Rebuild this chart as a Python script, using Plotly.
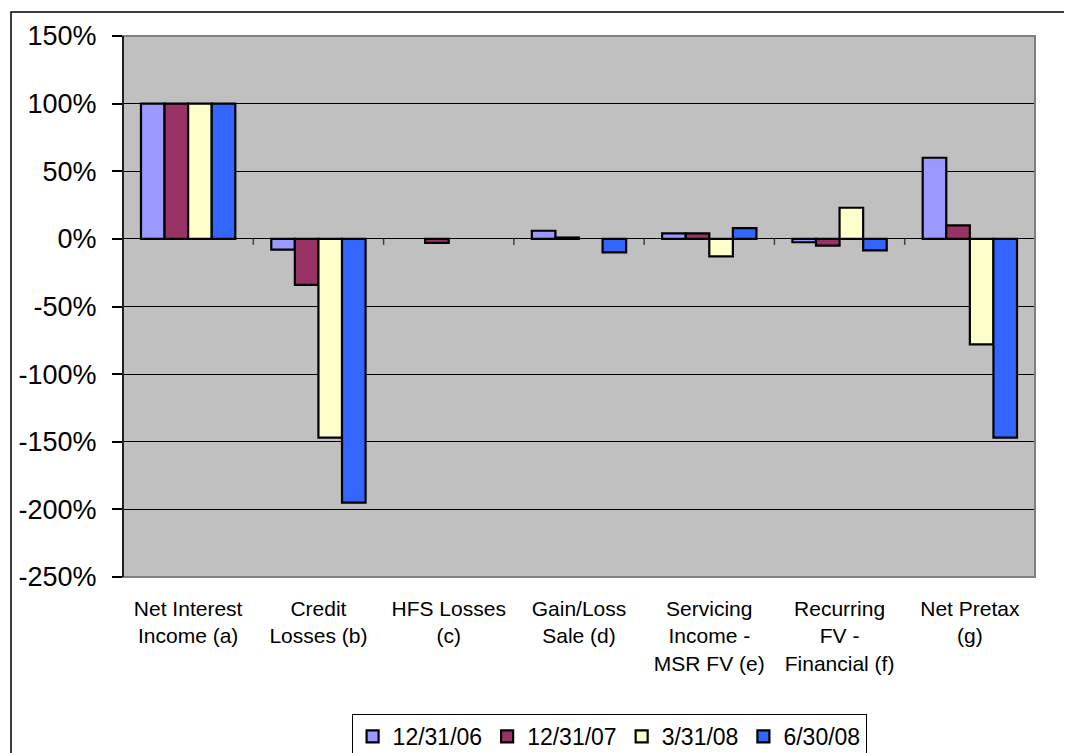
import plotly.graph_objects as go

categories = ["Net Interest<br>Income (a)", "Credit<br>Losses (b)", "HFS Losses<br>(c)",
              "Gain/Loss<br>Sale (d)", "Servicing<br>Income -<br>MSR FV (e)",
              "Recurring<br>FV -<br>Financial (f)", "Net Pretax<br>(g)"]
series_names = ["12/31/06", "12/31/07", "3/31/08", "6/30/08"]
# None = no bar drawn (blank / zero in the source)
s_123106 = [100, -8, None, 6, 4, -2.5, 60]
s_123107 = [100, -34, -3, 1, 4, -5, 10]
s_033108 = [100, -147, None, None, -13, 23, -78]
s_063008 = [100, -195, None, -10, 8, -8.5, -147]
series_values = [s_123106, s_123107, s_033108, s_063008]
colors = ["#9999FF", "#993366", "#FFFFCC", "#3366FF"]
y_ticks = [150, 100, 50, 0, -50, -100, -150, -200, -250]
y_tick_labels = ["150%", "100%", "50%", "0%", "-50%", "-100%", "-150%", "-200%", "-250%"]

FONT = "Liberation Sans, Arial, sans-serif"

fig = go.Figure()
for name, vals, c in zip(series_names, series_values, colors):
    fig.add_trace(go.Bar(x=categories, y=vals, name=name,
                         marker=dict(color=c, line=dict(color="black", width=2.2))))

shapes = []
# outer chart frame
shapes.append(dict(type="rect", xref="paper", yref="paper", x0=-0.1228, x1=1.2,
                   y0=1.0444, y1=-0.5, line=dict(color="black", width=1.5),
                   fillcolor="rgba(0,0,0,0)", layer="below"))
# plot area border (gray)
shapes.append(dict(type="rect", xref="paper", yref="paper", x0=0, x1=1, y0=0, y1=1,
                   line=dict(color="#808080", width=2), layer="above"))
# category boundary tick marks on zero line
for i in range(len(categories) - 1):
    shapes.append(dict(type="line", xref="x", yref="y", x0=i + 0.5, x1=i + 0.5,
                       ysizemode="pixel", yanchor=0, y0=0, y1=-6,
                       line=dict(color="#404040", width=1.5)))
# left axis line
shapes.append(dict(type="line", xref="paper", yref="paper", x0=0, x1=0, y0=0, y1=1,
                   line=dict(color="black", width=1.5), layer="above"))

fig.update_layout(
    width=1064, height=745,
    margin=dict(l=115, r=37, t=28, b=176, autoexpand=False),
    paper_bgcolor="white", plot_bgcolor="#C0C0C0",
    barmode="group", bargap=0.276, bargroupgap=0,
    font=dict(family=FONT, color="black"),
    shapes=shapes,
    showlegend=True,
    legend=dict(orientation="h", x=0.533, xanchor="center", y=-0.253, yanchor="top",
                bordercolor="black", borderwidth=1, bgcolor="white",
                font=dict(size=23, family=FONT), itemwidth=30, traceorder="normal"),
    xaxis=dict(type="category", showgrid=False, showline=False, ticks="",
               tickfont=dict(size=21, family=FONT), ticklabelstandoff=17,
               zeroline=False, automargin=False),
    yaxis=dict(range=[-250, 150], tickvals=y_ticks, ticktext=y_tick_labels,
               showgrid=True, gridcolor="black", gridwidth=1,
               zeroline=True, zerolinecolor="black", zerolinewidth=1,
               ticks="outside", ticklen=10, tickcolor="black", tickwidth=1.5,
               tickfont=dict(size=27, family=FONT), ticklabelstandoff=10,
               showline=False, automargin=False),
)

fig.write_html("out.html")
